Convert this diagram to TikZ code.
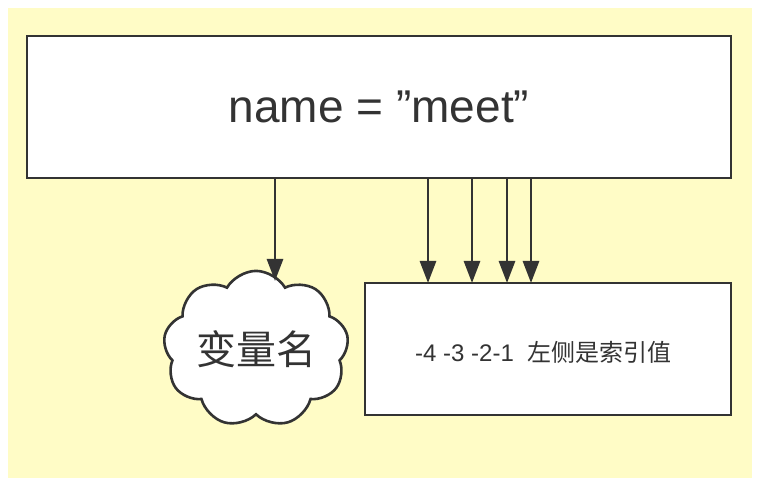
\documentclass[tikz,border=0pt]{standalone}
\usepackage{fontspec}
\setmainfont{Liberation Sans}
\newfontfamily\cjk{Noto Sans CJK SC}
\usetikzlibrary{shapes.symbols,arrows.meta}
\definecolor{bgy}{HTML}{FFFCC6}
\definecolor{ln}{HTML}{333333}
\begin{document}
\begin{tikzpicture}[x=1pt,y=-1pt,
  box/.style={draw=ln,line width=2.6pt,fill=white,inner sep=0},
  arr/.style={draw=ln,line width=2.8pt,-{Triangle[length=22pt,width=16pt]}}]
\useasboundingbox (0,0) rectangle (760,486);
\fill[bgy] (8,8) rectangle (752,478);
\node[box,minimum width=704pt,minimum height=142pt,font=\fontsize{46}{50}\selectfont,text=ln] (top) at (379,107) {name = \char34 meet\char34};
\node[box,minimum width=366pt,minimum height=132pt] (idx) at (548,349) {};
\node[text=ln,font=\fontsize{24}{28}\selectfont,anchor=west,inner sep=0] (t) at (415,352) {-4 -3 -2-1\ \ {\cjk 左侧是索引值}};
\node[draw=ln,line width=2.6pt,fill=white,cloud,cloud puffs=9,cloud puff arc=120,aspect=1.3,minimum width=168pt,minimum height=126pt,font=\cjk\fontsize{40}{44}\selectfont,text=ln,inner sep=0] (cl) at (256,349) {变量名};
\coordinate (a0) at (275,178);
\coordinate (b0) at (275,281);
\draw[arr] (a0) -- (b0);
\foreach \x in {428,472,507,531}{
  \draw[arr] (\x,178) -- (\x,283);
}
\end{tikzpicture}
\end{document}
